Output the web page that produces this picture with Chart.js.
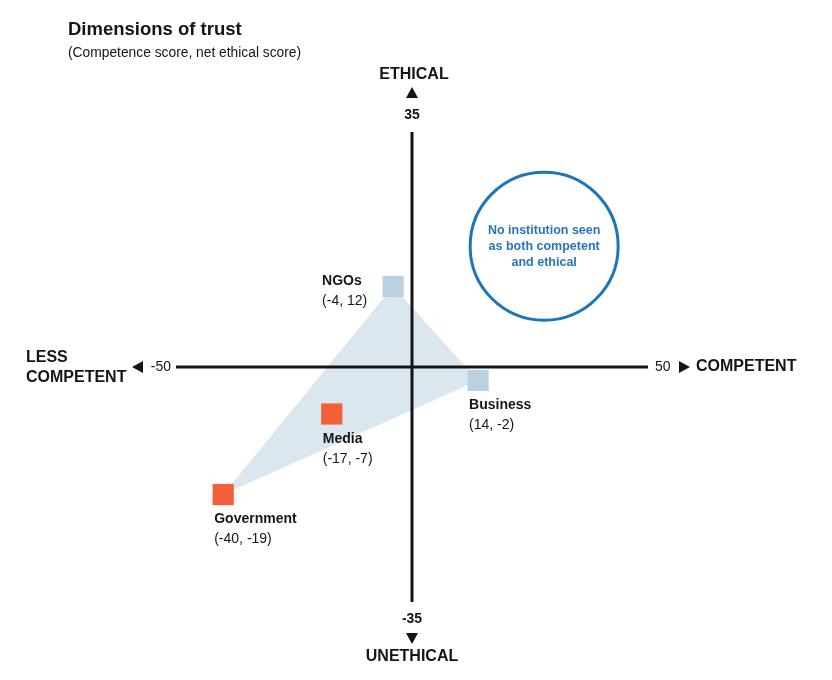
<!DOCTYPE html>
<html>
<head>
<meta charset="utf-8">
<script src="https://cdn.jsdelivr.net/npm/chart.js@4.4.1/dist/chart.umd.min.js"></script>
<style>
    body { margin: 0; background: #fff; }
    canvas { display: block; }
</style>
</head>
<body>
<canvas id="trust-chart" width="832" height="680"></canvas>
<script>
// Institutions and their scores (competence, net ethical)
const institutions = ["NGOs", "Business", "Media", "Government"];
const competence = [-4, 14, -17, -40];
const ethical = [12, -2, -7, -19];
const groups = ["blue", "blue", "red", "red"];

// Institutions joined by the shaded triangle
const shaded = ["NGOs", "Business", "Government"];

// Axis range and end labels
const xTicks = [-50, 50];
const yTicks = [-35, 35];

// Callout circle in the competent + ethical quadrant
const calloutLines = ["No institution seen", "as both competent", "and ethical"];
const calloutPoint = [28, 18];

const FONT = "'Liberation Sans', Arial, sans-serif";
const INK = "#151515";
const BLUE = "#1b75bb";

function colorFor(g) {
    return g === "red" ? "#f2603a" : "#b9d1e0";
}

const points = institutions.map(function (name, i) {
    return { x: competence[i], y: ethical[i] };
});

const triangle = shaded.map(function (name) {
    const i = institutions.indexOf(name);
    return { x: competence[i], y: ethical[i] };
});
triangle.push(triangle[0]);

// Axes, arrows, titles and point labels
const decorations = {
    id: "decorations",
    afterDatasetsDraw(chart) {
        const ctx = chart.ctx;
        const xs = chart.scales.x;
        const ys = chart.scales.y;
        const cx = xs.getPixelForValue(0);
        const cy = ys.getPixelForValue(0);
        const left = xs.getPixelForValue(xTicks[0]);
        const right = xs.getPixelForValue(xTicks[1]);
        const top = ys.getPixelForValue(yTicks[1]);
        const bottom = ys.getPixelForValue(yTicks[0]);

        ctx.save();

        // Axis lines (over the shaded triangle)
        ctx.strokeStyle = INK;
        ctx.lineWidth = 3;
        ctx.beginPath();
        ctx.moveTo(left, cy);
        ctx.lineTo(right, cy);
        ctx.moveTo(cx, top);
        ctx.lineTo(cx, bottom);
        ctx.stroke();

        ctx.fillStyle = INK;
        ctx.textBaseline = "middle";

        // Title
        ctx.textAlign = "left";
        ctx.font = "bold 18.5px " + FONT;
        ctx.fillText("Dimensions of trust", 68, 30);
        ctx.font = "13.8px " + FONT;
        ctx.fillText("(Competence score, net ethical score)", 68, 53);

        // Vertical axis ends
        ctx.textAlign = "center";
        ctx.font = "bold 14px " + FONT;
        ctx.fillText(String(yTicks[1]), cx, top - 17);
        ctx.fillText(String(yTicks[0]), cx, bottom + 17);
        ctx.font = "bold 16px " + FONT;
        ctx.fillText("ETHICAL", cx + 2, top - 57);
        ctx.fillText("UNETHICAL", cx, bottom + 55);

        ctx.beginPath();
        ctx.moveTo(cx, top - 45);
        ctx.lineTo(cx + 6, top - 34);
        ctx.lineTo(cx - 6, top - 34);
        ctx.closePath();
        ctx.moveTo(cx, bottom + 42);
        ctx.lineTo(cx + 6, bottom + 31);
        ctx.lineTo(cx - 6, bottom + 31);
        ctx.closePath();
        ctx.fill();

        // Horizontal axis ends
        ctx.font = "14px " + FONT;
        ctx.textAlign = "right";
        ctx.fillText(String(xTicks[0]), left - 5, cy);
        ctx.textAlign = "left";
        ctx.fillText(String(xTicks[1]), right + 7, cy);

        ctx.beginPath();
        ctx.moveTo(left - 44, cy);
        ctx.lineTo(left - 33, cy - 6);
        ctx.lineTo(left - 33, cy + 6);
        ctx.closePath();
        ctx.moveTo(right + 42, cy);
        ctx.lineTo(right + 31, cy - 6);
        ctx.lineTo(right + 31, cy + 6);
        ctx.closePath();
        ctx.fill();

        ctx.font = "bold 16px " + FONT;
        ctx.fillText("LESS", 26, cy - 9);
        ctx.fillText("COMPETENT", 26, cy + 11);
        ctx.fillText("COMPETENT", right + 48, cy);

        // Point labels
        const meta = chart.getDatasetMeta(0);
        meta.data.forEach(function (pt, i) {
            const label = "(" + competence[i] + ", " + ethical[i] + ")";
            let lx = pt.x - 9;
            let ly = pt.y + 25;
            if (ethical[i] > 0) {
                lx = pt.x - 71;
                ly = pt.y - 5;
            }
            ctx.textAlign = "left";
            ctx.font = "bold 14px " + FONT;
            ctx.fillText(institutions[i], lx, ly);
            ctx.font = "14px " + FONT;
            ctx.fillText(label, lx, ly + 20);
        });

        // Callout text
        const callout = chart.getDatasetMeta(1).data[0];
        ctx.fillStyle = "#2a74b9";
        ctx.textAlign = "center";
        ctx.font = "bold 12.5px " + FONT;
        calloutLines.forEach(function (line, i) {
            ctx.fillText(line, callout.x, callout.y + (i - 1) * 16);
        });
        ctx.restore();
    }
};

new Chart(document.getElementById("trust-chart"), {
    type: "scatter",
    data: {
        datasets: [{
            label: "Institutions",
            data: points,
            pointStyle: "rect",
            pointRadius: 15,
            pointHoverRadius: 15,
            pointBorderWidth: 0,
            backgroundColor: groups.map(colorFor),
            order: 1
        }, {
            type: "bubble",
            label: "Callout",
            data: [{ x: calloutPoint[0], y: calloutPoint[1], r: 74 }],
            backgroundColor: "rgba(255,255,255,0)",
            borderColor: BLUE,
            borderWidth: 3,
            order: 2
        }, {
            label: "Range",
            data: triangle,
            showLine: true,
            fill: "shape",
            backgroundColor: "#dbe7ee",
            borderWidth: 0,
            borderColor: "rgba(0,0,0,0)",
            pointRadius: 0,
            tension: 0,
            order: 3
        }]
    },
    options: {
        responsive: false,
        animation: false,
        devicePixelRatio: 1,
        layout: {
            padding: { left: 176, right: 184, top: 132, bottom: 78 }
        },
        scales: {
            x: { type: "linear", min: xTicks[0], max: xTicks[1], display: false },
            y: { type: "linear", min: yTicks[0], max: yTicks[1], display: false }
        },
        plugins: {
            legend: { display: false },
            tooltip: { enabled: false }
        },
        events: []
    },
    plugins: [decorations]
});
</script>
</body>
</html>
